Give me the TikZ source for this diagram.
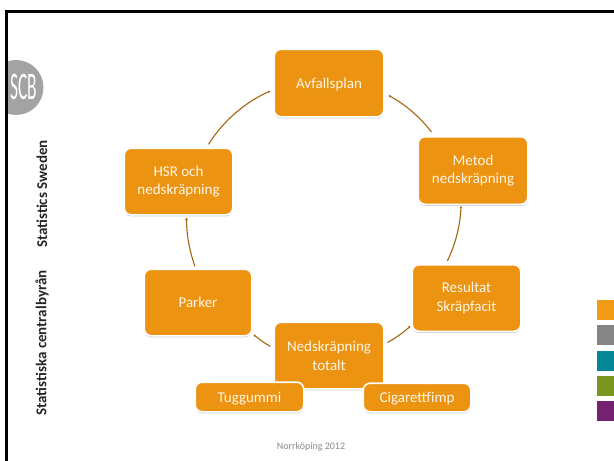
\documentclass[tikz,border=0pt]{standalone}
\usepackage{fontspec}
\setmainfont{Carlito}
\usetikzlibrary{arrows.meta,shadows}
\definecolor{boxorange}{HTML}{EC9311}
\definecolor{linkbrown}{HTML}{A5660F}
\definecolor{footgray}{HTML}{8C8C8C}
\definecolor{logogray}{HTML}{A3A3A3}
\definecolor{legorange}{HTML}{F09A15}
\definecolor{leggray}{HTML}{858585}
\definecolor{legteal}{HTML}{068798}
\definecolor{legolive}{HTML}{7A961F}
\definecolor{legpurple}{HTML}{752270}
\definecolor{boxtext}{HTML}{FFF6E6}
\tikzset{
  stagebox/.style={draw=white,line width=1.6pt,fill=boxorange,rounded corners=7pt,
    text=boxtext,align=center,inner sep=0pt,outer sep=0.8pt,
    font=\fontsize{15}{18.8}\selectfont,
    drop shadow={shadow xshift=0pt,shadow yshift=-1.6pt,opacity=.3,fill=black!60}},
  bigbox/.style={stagebox,minimum width=109.6pt,minimum height=67.6pt},
  smallbox/.style={stagebox,minimum width=108.6pt,minimum height=29.6pt,text depth=0pt},
  oneline/.style={text depth=0pt},
  link/.style={draw=linkbrown,line width=1.1pt,-{Stealth[length=2.2pt,width=2.6pt]},looseness=0.85},
  sidetext/.style={rotate=90,font=\fontsize{15}{17}\selectfont\bfseries,text=black!85,inner sep=0pt},
  legendbox/.style={inner sep=0pt,minimum width=17pt,minimum height=20pt}
}
\begin{document}
\begin{tikzpicture}[x=1pt,y=-1pt]
\useasboundingbox[fill=white] (0,0) rectangle (614,461);
% logo
\begin{scope}
  \clip (6.5,50) rectangle (60,125);
  \fill[logogray] (16,87.5) circle (27.5);
\end{scope}
\node[text=white,inner sep=0pt,xscale=0.58,yscale=1.3,font=\fontsize{30}{30}\selectfont] (logo) at (24,87) {SCB};
% frame
\draw[black,line width=3pt] (614,11) -- (6.5,11) -- (6.5,461);
% side texts
\node[sidetext] (sweden) at (42,194) {Statistics Sweden};
\node[sidetext] (central) at (42,343) {Statistiska centralbyrån};
% boxes
\node[bigbox,oneline] (avf) at (329,83) {Avfallsplan};
\node[bigbox] (metod) at (473,170.5) {Metod\\nedskräpning};
\node[bigbox,minimum width=108.6pt,minimum height=66.6pt] (res) at (466.5,298) {Resultat\\Skräpfacit};
\node[bigbox,minimum height=66.6pt] (ned) at (329,355.5) {Nedskräpning\\totalt};
\node[bigbox,oneline,minimum width=107.6pt,minimum height=66.6pt] (parker) at (198,302.5) {Parker};
\node[bigbox,minimum width=108.6pt,minimum height=66.6pt] (hsr) at (178.5,181.5) {HSR och\\nedskräpning};
\node[smallbox] (tugg) at (249.5,397) {Tuggummi};
\node[smallbox,minimum width=107.6pt,minimum height=28.6pt] (cig) at (417,397.5) {Cigarettfimp};
% connectors
\draw[link] ([shift={(14,-4)}]metod.north west) to[bend right=12] ([shift={(4,47)}]avf.north east);
\draw[link] ([shift={(36,-3)}]res.north west) to[bend right=12] ([shift={(-12,1)}]metod.south);
\draw[link] ([shift={(3,-13)}]ned.east) to[bend right=6.5] ([shift={(-1,-6)}]res.south west);
\draw[link] ([shift={(-3,-9)}]ned.west) to[bend left=5] ([shift={(1,-2)}]parker.south east);
\draw[link] ([shift={(-3,-2)}]parker.north) to[bend left=10] ([shift={(8,2)}]hsr.south);
\draw[link] ([shift={(30,-3)}]hsr.north) to[bend left=17.5] ([shift={(-3,8)}]avf.west);
% footer
\node[text=footgray,inner sep=0pt,font=\fontsize{10}{12}\selectfont] (foot) at (311,447) {Norrköping 2012};
% legend
\node[legendbox,fill=legorange] (leg1) at (605.5,310) {};
\node[legendbox,fill=leggray] (leg2) at (605.5,335) {};
\node[legendbox,fill=legteal] (leg3) at (605.5,360.5) {};
\node[legendbox,fill=legolive] (leg4) at (605.5,386) {};
\node[legendbox,fill=legpurple] (leg5) at (605.5,411) {};
\end{tikzpicture}
\end{document}
